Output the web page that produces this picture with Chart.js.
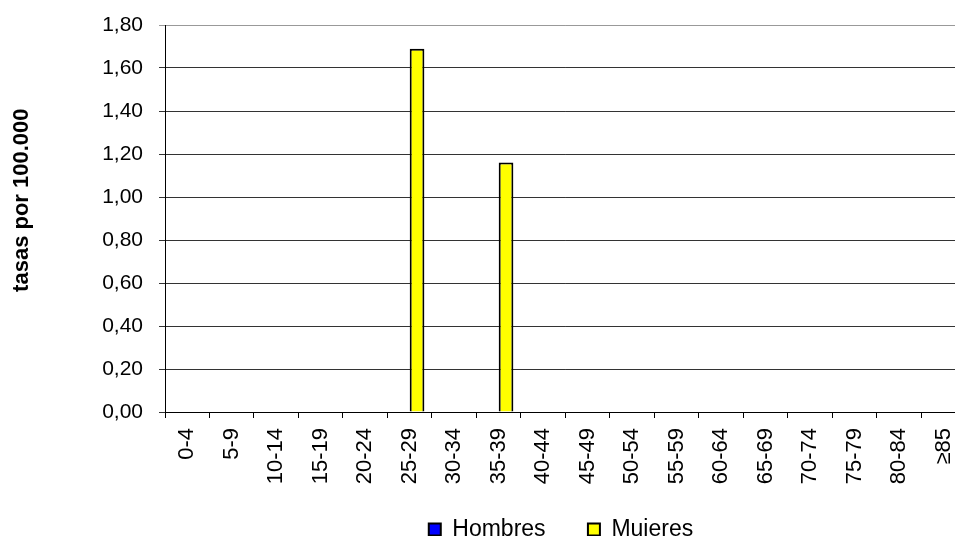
<!DOCTYPE html>
<html>
<head>
<meta charset="utf-8">
<script src="https://cdn.jsdelivr.net/npm/chart.js@4.4.1/dist/chart.umd.min.js"></script>
<style>
  html, body { margin: 0; padding: 0; background: #fff; overflow: hidden; }
</style>
</head>
<body>
<canvas id="grafico" width="980" height="536"></canvas>
<script>
// datos
const gruposEdad = ['0-4', '5-9', '10-14', '15-19', '20-24', '25-29', '30-34', '35-39', '40-44',
  '45-49', '50-54', '55-59', '60-64', '65-69', '70-74', '75-79', '80-84', '\u226585'];
const hombres = [0, 0, 0, 0, 0, 0, 0, 0, 0, 0, 0, 0, 0, 0, 0, 0, 0, 0];
const mujeres = [0, 0, 0, 0, 0, 1.69, 0, 1.16, 0, 0, 0, 0, 0, 0, 0, 0, 0, 0];
const ticksY = [0, 0.2, 0.4, 0.6, 0.8, 1.0, 1.2, 1.4, 1.6, 1.8];

const fuente = 'Liberation Sans, Arial, sans-serif';

// mueve la leyenda hacia la derecha como en el original
const moverLeyenda = {
  id: 'moverLeyenda',
  afterLayout(chart) {
    chart.legend.left += 71;
    chart.legend.right += 71;
  }
};

new Chart(document.getElementById('grafico').getContext('2d'), {
  type: 'bar',
  data: {
    labels: gruposEdad,
    datasets: [{
      label: 'Hombres      ',
      data: hombres,
      backgroundColor: '#0000FF',
      borderColor: '#000000',
      borderWidth: 2,
      categoryPercentage: 0.66,
      barPercentage: 1
    }, {
      label: 'Mujeres',
      data: mujeres,
      backgroundColor: '#FFFF00',
      borderColor: '#000000',
      borderWidth: 2,
      categoryPercentage: 0.66,
      barPercentage: 1
    }]
  },
  options: {
    responsive: false,
    animation: false,
    layout: { padding: { top: 25, bottom: -15, left: 0, right: 0 } },
    plugins: {
      tooltip: { enabled: false },
      legend: {
        position: 'bottom',
        labels: {
          boxWidth: 12,
          boxHeight: 12,
          padding: 4,
          color: '#000',
          font: { family: fuente, size: 23 }
        }
      }
    },
    scales: {
      x: {
        offset: true,
        border: { display: true, color: '#000', width: 1 },
        grid: { offset: true, drawOnChartArea: false, drawTicks: true, tickLength: 6, color: '#000' },
        ticks: {
          minRotation: 90,
          maxRotation: 90,
          autoSkip: false,
          padding: 10,
          color: '#000',
          font: { family: fuente, size: 22 }
        },
        afterFit(scale) { scale.height = 102; }
      },
      y: {
        min: 0,
        max: 1.8,
        afterBuildTicks(scale) { scale.ticks = ticksY.map(v => ({ value: v })); },
        border: { display: true, color: '#000', width: 1 },
        grid: {
          drawTicks: true,
          tickLength: 6,
          color: ctx => ctx.index === ticksY.length - 1 ? '#999' : '#333'
        },
        ticks: {
          padding: 16,
          color: '#000',
          font: { family: fuente, size: 21, lineHeight: 0.85 },
          callback: v => v.toFixed(2).replace('.', ',')
        },
        title: {
          display: true,
          text: '      tasas por 100.000',
          color: '#000',
          font: { family: fuente, size: 22, weight: 'bold' },
          padding: { top: 9, bottom: 0 }
        },
        afterFit(scale) { scale.width = 165; }
      }
    }
  },
  plugins: [moverLeyenda]
});
</script>
</body>
</html>
